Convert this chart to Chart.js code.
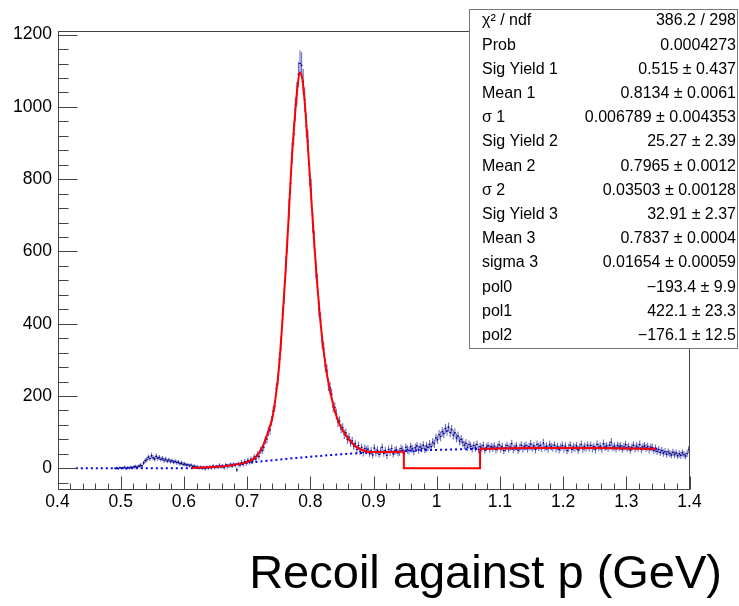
<!DOCTYPE html>
<html>
<head>
<meta charset="utf-8">
<script src="https://cdn.jsdelivr.net/npm/chart.js@4.4.1/dist/chart.umd.min.js"></script>
<style>
  html, body { margin: 0; padding: 0; background: #fff; }
  #c { display: block; }
</style>
</head>
<body>
<canvas id="c" width="739" height="606"></canvas>
<script>
// histogram: bins of 0.0025 starting at 0.49, one row = 0.05
const binStart = 0.49;
const binWidth = 0.0025;
const counts = [
  0, 1, -1, 2, 0, 1, 3, -1, 2, 1, 3, 2, 4, 5, 3, 6, 8, 7, 15, 21,                          // 0.49
  24, 31, 27, 35, 29, 26, 33, 28, 30, 25, 27, 22, 25, 20, 23, 19, 21, 17, 19, 16,          // 0.54
  17, 13, 15, 11, 12, 9, 10, 7, 9, 5, 6, 3, 4, 1, 3, 0, 2, -1, 3, 1,                       // 0.59
  4, 1, 6, 2, 5, 3, 8, 4, 6, 2, 9, 5, 7, 10, 6, 11, 8, -4, 12, 9,                          // 0.64
  16, 11, 19, 14, 22, 17, 25, 20, 31, 26, 38, 33, 50, 49, 58, 77, 81, 102, 106, 131,       // 0.69
  158, 172, 220, 246, 301, 345, 425, 478, 562, 622, 718, 788, 872, 925, 993, 1035, 1090, 1120, 1115, 1070, // 0.74
  1020, 948, 905, 812, 771, 680, 630, 552, 514, 441, 410, 352, 330, 284, 270, 231, 222, 205, 170, 168,     // 0.79
  150, 128, 130, 109, 112, 94, 98, 80, 86, 70, 76, 61, 68, 52, 63, 47, 58, 44, 55, 50,     // 0.84
  53, 41, 48, 37, 56, 44, 50, 39, 47, 58, 42, 49, 36, 52, 45, 55, 40, 48, 51, 43,          // 0.89
  46, 55, 50, 43, 58, 52, 49, 60, 54, 47, 57, 62, 51, 59, 55, 64, 53, 61, 58, 66,          // 0.94
  60, 72, 68, 84, 79, 93, 88, 101, 96, 110, 103, 114, 99, 107, 92, 98, 84, 89, 75, 80,     // 0.99
  72, 64, 69, 58, 66, 61, 55, 63, 57, 66, 52, 60, 56, 63, 50, 58, 62, 54, 60, 57,          // 1.04
  61, 52, 58, 65, 55, 60, 49, 57, 63, 54, 59, 68, 53, 58, 62, 50, 57, 64, 55, 60,          // 1.09
  63, 55, 60, 67, 57, 62, 52, 66, 59, 63, 56, 70, 58, 61, 54, 65, 60, 57, 64, 55,          // 1.14
  60, 52, 58, 63, 55, 61, 49, 57, 64, 53, 59, 56, 62, 51, 58, 66, 54, 60, 57, 63,          // 1.19
  57, 63, 55, 60, 52, 66, 58, 61, 54, 68, 59, 62, 56, 64, 72, 58, 61, 55, 63, 59,          // 1.24
  62, 54, 59, 65, 56, 60, 51, 58, 64, 55, 61, 57, 66, 53, 59, 62, 56, 60, 52, 58,          // 1.29
  57, 50, 55, 47, 52, 44, 49, 42, 46, 39, 45, 41, 37, 44, 38, 42, 35, 40, 36, 43,          // 1.34
  38, 34, 41, 52                                                                            // 1.39
];
const errors = [
  3, 3, 3, 3, 3, 3, 4, 3, 4, 4, 4, 4, 5, 5, 5, 5, 6, 6, 6, 7,
  7, 7, 7, 8, 7, 7, 8, 7, 7, 7, 7, 7, 7, 6, 7, 6, 6, 6, 6, 6,
  6, 6, 6, 6, 6, 5, 5, 5, 5, 5, 5, 5, 5, 5, 5, 5, 5, 5, 5, 5,
  5, 5, 5, 5, 5, 5, 6, 5, 6, 5, 6, 6, 6, 6, 6, 6, 6, 6, 7, 7,
  7, 7, 7, 7, 7, 7, 8, 8, 8, 8, 9, 9, 10, 10, 11, 11, 12, 13, 13, 14,
  14, 15, 16, 17, 19, 20, 22, 23, 25, 26, 28, 29, 31, 32, 33, 34, 35, 36, 36, 35,
  34, 33, 32, 31, 30, 28, 27, 26, 24, 23, 22, 21, 20, 19, 18, 17, 17, 16, 15, 15,
  15, 14, 14, 13, 13, 13, 12, 12, 12, 11, 11, 11, 11, 11, 11, 11, 11, 11, 11, 11,
  11, 10, 11, 10, 11, 11, 11, 10, 11, 11, 10, 11, 10, 11, 11, 11, 10, 11, 11, 10,
  11, 11, 11, 10, 11, 11, 11, 11, 11, 11, 11, 11, 11, 11, 11, 11, 11, 11, 11, 12,
  11, 12, 12, 12, 12, 13, 13, 13, 13, 13, 13, 13, 13, 13, 13, 13, 12, 13, 12, 12,
  12, 11, 12, 11, 11, 11, 11, 11, 11, 11, 11, 11, 11, 11, 10, 11, 11, 11, 11, 11,
  11, 11, 11, 11, 11, 11, 10, 11, 11, 11, 11, 11, 11, 11, 11, 10, 11, 11, 11, 11,
  11, 11, 11, 12, 11, 11, 11, 11, 11, 11, 11, 12, 11, 11, 11, 11, 11, 11, 11, 11,
  11, 11, 11, 11, 11, 11, 10, 11, 11, 11, 11, 11, 11, 11, 11, 11, 11, 11, 11, 11,
  11, 11, 11, 11, 11, 11, 11, 11, 11, 12, 11, 11, 11, 11, 12, 11, 11, 11, 11, 11,
  11, 11, 11, 11, 11, 11, 11, 11, 11, 11, 11, 11, 11, 11, 11, 11, 11, 11, 11, 11,
  11, 10, 11, 10, 10, 10, 10, 10, 10, 10, 10, 10, 10, 10, 10, 10, 9, 10, 10, 10,
  10, 9, 10, 10
];

// total fit (red): left part, excluded window, right part
const fitLeftX = [0.612, 0.63, 0.65, 0.67, 0.69, 0.70, 0.71, 0.715, 0.72, 0.725, 0.73, 0.735, 0.74, 0.745, 0.75, 0.755, 0.76, 0.765, 0.77, 0.775, 0.78, 0.784, 0.788, 0.792, 0.796, 0.80, 0.805, 0.81, 0.815, 0.82, 0.825, 0.83, 0.835, 0.84, 0.845, 0.85, 0.855, 0.86, 0.865, 0.87, 0.875, 0.88, 0.885, 0.89, 0.90, 0.92, 0.94, 0.948];
const fitLeftY = [1, 2, 4, 7, 13, 17, 26, 34, 46, 62, 85, 110, 140, 195, 270, 385, 520, 670, 835, 960, 1060, 1096, 1070, 995, 895, 790, 655, 530, 425, 340, 275, 225, 185, 152, 127, 110, 95, 82, 72, 63, 57, 52, 49, 46, 45, 45, 46, 47];
const fitGapX = [0.948, 0.948, 1.0686, 1.0686];
const fitGapY = [47, 0, 0, 54];
const fitRightX = [1.0686, 1.1, 1.15, 1.2, 1.25, 1.3, 1.3466];
const fitRightY = [54, 55, 56, 56, 56, 55, 54];

// background pol2 (blue dotted)
const bgX = [0.429, 0.5, 0.55, 0.6, 0.62, 0.65, 0.7, 0.75, 0.8, 0.85, 0.9, 0.95, 1.0, 1.05, 1.1, 1.15, 1.2, 1.25, 1.3, 1.35];
const bgY = [0, 0, 0, 0, 1, 5, 15, 24, 32, 39, 44, 48, 51, 53, 55, 55, 56, 56, 55, 54];

const xTicks = [0.4, 0.5, 0.6, 0.7, 0.8, 0.9, 1.0, 1.1, 1.2, 1.3, 1.4];
const xTickLabels = ['0.4', '0.5', '0.6', '0.7', '0.8', '0.9', '1', '1.1', '1.2', '1.3', '1.4'];
const yTicks = [0, 200, 400, 600, 800, 1000, 1200];

const statLabels = ['χ² / ndf', 'Prob', 'Sig Yield 1', 'Mean 1', 'σ 1', 'Sig Yield 2', 'Mean 2', 'σ 2', 'Sig Yield 3', 'Mean 3', 'sigma 3', 'pol0', 'pol1', 'pol2'];
const statValues = ['386.2 / 298', '0.0004273', '0.515 ± 0.437', '0.8134 ± 0.0061', '0.006789 ± 0.004353', '25.27 ± 2.39', '0.7965 ± 0.0012', '0.03503 ± 0.00128', '32.91 ± 2.37', '0.7837 ± 0.0004', '0.01654 ± 0.00059', '−193.4 ± 9.9', '422.1 ± 23.3', '−176.1 ± 12.5'];

const FONT = '"Liberation Sans", Arial, Helvetica, sans-serif';

function pts(xs, ys){ return xs.map((x, i) => ({ x: x, y: ys[i] })); }

const histPoints = counts.map((c, i) => ({ x: binStart + (i + 0.5) * binWidth, y: c, err: errors[i] }));

// ROOT-like look: error bars, inner ticks, full frame, stats box
const rootStyle = {
  id: 'rootStyle',
  beforeDatasetsDraw(chart){
    const ctx = chart.ctx, xs = chart.scales.x, ys = chart.scales.y, a = chart.chartArea;
    ctx.save();
    ctx.beginPath();
    ctx.rect(a.left, a.top, a.right - a.left, a.bottom - a.top);
    ctx.clip();
    ctx.strokeStyle = 'rgba(45,45,165,0.7)';
    ctx.lineWidth = 1.1;
    ctx.beginPath();
    histPoints.forEach(p => {
      const px = xs.getPixelForValue(p.x);
      ctx.moveTo(px, ys.getPixelForValue(p.y - p.err));
      ctx.lineTo(px, ys.getPixelForValue(p.y + p.err));
    });
    ctx.stroke();
    ctx.strokeStyle = 'rgba(15,15,130,0.9)';
    ctx.lineWidth = 1;
    ctx.beginPath();
    histPoints.forEach(p => {
      const py = ys.getPixelForValue(p.y);
      ctx.moveTo(xs.getPixelForValue(p.x - binWidth / 2), py);
      ctx.lineTo(xs.getPixelForValue(p.x + binWidth / 2), py);
    });
    ctx.stroke();
    ctx.restore();
  },
  afterDatasetsDraw(chart){
    const ctx = chart.ctx, xs = chart.scales.x, ys = chart.scales.y, a = chart.chartArea;
    ctx.save();
    ctx.strokeStyle = '#444';
    ctx.lineWidth = 1;
    const L = Math.round(a.left) + 0.5, R = Math.round(a.right) - 0.5;
    const T = Math.round(a.top) + 0.5, B = Math.round(a.bottom) - 0.5;
    ctx.strokeRect(L, T, R - L, B - T);
    ctx.beginPath();
    for (let v = -40; v <= 1200; v += 40){
      const y = Math.round(ys.getPixelForValue(v)) + 0.5;
      const len = yTicks.includes(v) ? 19 : 10;
      ctx.moveTo(L, y); ctx.lineTo(L + len, y);
    }
    for (let k = 0; k <= 50; k++){
      const v = 0.4 + k * 0.02;
      const x = Math.round(xs.getPixelForValue(v)) + 0.5;
      const len = (k % 5 === 0) ? 13 : 6;
      ctx.moveTo(x, B); ctx.lineTo(x, B - len);
    }
    ctx.stroke();
    ctx.restore();
  },
  afterDraw(chart){
    const ctx = chart.ctx;
    const bx = 469.5, by = 9.5, bw = 268, bh = 339;
    ctx.save();
    ctx.fillStyle = '#fff';
    ctx.fillRect(bx, by, bw, bh);
    ctx.strokeStyle = '#777';
    ctx.lineWidth = 1;
    ctx.strokeRect(bx, by, bw, bh);
    ctx.fillStyle = '#000';
    ctx.font = '16px ' + FONT;
    ctx.textBaseline = 'middle';
    statLabels.forEach((lab, i) => {
      const y = 21 + i * 24.2;
      ctx.textAlign = 'left';
      ctx.fillText(lab, 482, y);
      ctx.textAlign = 'right';
      ctx.fillText(statValues[i], 736, y);
    });
    ctx.restore();
  }
};

new Chart(document.getElementById('c'), {
  type: 'line',
  data: {
    datasets: [
      { label: 'fit', data: pts(fitLeftX, fitLeftY), borderColor: '#ff0000', borderWidth: 2, pointRadius: 0, fill: false, tension: 0.4, cubicInterpolationMode: 'monotone', order: 1 },
      { label: 'fit window', data: pts(fitGapX, fitGapY), borderColor: '#ff0000', borderWidth: 2, pointRadius: 0, fill: false, tension: 0, order: 1 },
      { label: 'fit right', data: pts(fitRightX, fitRightY), borderColor: '#ff0000', borderWidth: 2, pointRadius: 0, fill: false, tension: 0.4, cubicInterpolationMode: 'monotone', order: 1 },
      { label: 'background', data: pts(bgX, bgY), borderColor: '#0000ff', borderWidth: 2, borderDash: [2, 3], pointRadius: 0, fill: false, tension: 0.4, cubicInterpolationMode: 'monotone', order: 2 },
      { label: 'data', data: histPoints, showLine: false, pointRadius: 0.8, pointBackgroundColor: '#000080', pointBorderWidth: 0, order: 3 }
    ]
  },
  options: {
    responsive: false,
    animation: false,
    events: [],
    layout: { padding: { top: 31, right: 17, bottom: 0, left: 0 } },
    plugins: {
      legend: { display: false },
      tooltip: { enabled: false },
      title: {
        display: true,
        text: 'Recoil against p (GeV)',
        position: 'bottom',
        align: 'end',
        color: '#000',
        font: { family: FONT, size: 47, weight: 'normal', lineHeight: 1.2 },
        padding: { top: 0, bottom: 3 }
      }
    },
    scales: {
      x: {
        type: 'linear',
        position: 'bottom',
        min: 0.4,
        max: 1.4,
        grid: { display: false, drawTicks: false },
        border: { display: false },
        afterBuildTicks: s => { s.ticks = xTicks.map(v => ({ value: v })); },
        afterFit: s => { s.height = 56.6; },
        ticks: {
          color: '#000',
          padding: 2,
          maxRotation: 0,
          autoSkip: false,
          font: { family: FONT, size: 17.5 },
          callback: (v, i) => xTickLabels[i]
        }
      },
      y: {
        type: 'linear',
        position: 'left',
        min: -60,
        max: 1210,
        grid: { display: false, drawTicks: false },
        border: { display: false },
        afterBuildTicks: s => { s.ticks = yTicks.map(v => ({ value: v })); },
        afterFit: s => { s.width = 57.5; },
        ticks: {
          color: '#000',
          padding: 5.5,
          font: { family: FONT, size: 17.5 },
          callback: v => String(v)
        }
      },
      y2: {
        type: 'linear',
        position: 'right',
        display: true,
        grid: { display: false, drawTicks: false },
        border: { display: false },
        ticks: { display: false },
        afterFit: s => { s.width = 32.5; }
      }
    }
  },
  plugins: [rootStyle]
});
</script>
</body>
</html>
